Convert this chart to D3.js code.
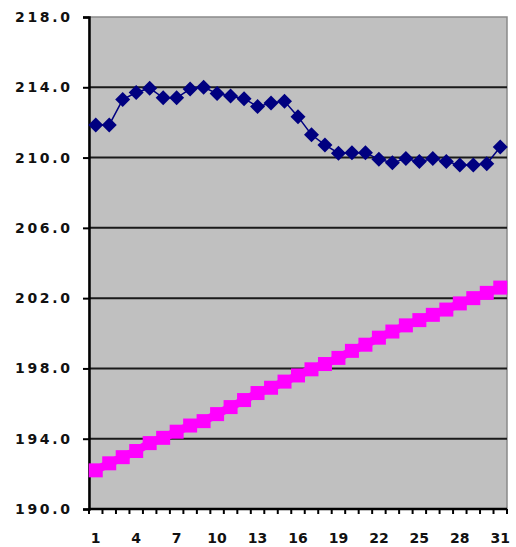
<!DOCTYPE html>
<html><head><meta charset="utf-8">
<script src="https://cdn.jsdelivr.net/npm/d3@7"></script>
<style>body{margin:0;background:#fff}svg{display:block}</style>
</head><body>
<script>
const days = d3.range(1, 32);
const blueValues = [211.86,211.86,213.3,213.7,213.95,213.4,213.4,213.9,214.0,213.65,213.5,213.35,212.9,213.1,213.2,212.33,211.3,210.72,210.25,210.28,210.28,209.9,209.7,209.95,209.77,209.95,209.77,209.58,209.58,209.65,210.6];
const pinkValues = [192.2,192.6,192.95,193.3,193.75,194.05,194.4,194.75,195.0,195.4,195.8,196.2,196.6,196.9,197.25,197.6,197.95,198.25,198.6,199.0,199.35,199.75,200.1,200.45,200.75,201.05,201.35,201.7,202.0,202.3,202.6];
const yTicks = [190,194,198,202,206,210,214,218];
const xLabels = [1,4,7,10,13,16,19,22,25,28,31];

const W = 516, H = 547;
const m = {left: 89, right: 9, top: 17, bottom: 38};
const svg = d3.select("body").append("svg").attr("width", W).attr("height", H);
const pw = W - m.left - m.right, ph = H - m.top - m.bottom;
const FONT = "DejaVu Sans, Verdana, sans-serif";

const x = d3.scaleBand().domain(days).range([m.left, m.left + pw]).padding(0);
const y = d3.scaleLinear().domain([190, 218]).range([m.top + ph, m.top]);
const cx = d => x(d) + x.bandwidth() / 2;

svg.append("rect").attr("x", m.left).attr("y", m.top).attr("width", pw).attr("height", ph)
  .attr("fill", "#c0c0c0").attr("stroke", "#8a8a8a").attr("stroke-width", 1.5);

// grid lines
svg.append("g").selectAll("line").data(yTicks.filter(t => t > 190 && t < 218)).join("line")
  .attr("x1", m.left).attr("x2", m.left + pw)
  .attr("y1", d => y(d)).attr("y2", d => y(d))
  .attr("stroke", "#1a1a1a").attr("stroke-width", 2);

// y axis
const yAxis = d3.axisLeft(y).tickValues(yTicks).tickFormat(d3.format(".1f")).tickSize(6).tickPadding(13);
const gy = svg.append("g").attr("transform", `translate(${m.left},0)`).call(yAxis);
gy.select(".domain").attr("stroke", "#000").attr("stroke-width", 2.5);
gy.selectAll(".tick line").attr("stroke", "#000").attr("stroke-width", 2);
gy.selectAll("text").attr("font-family", FONT).attr("font-size", 14).attr("font-weight", "bold")
  .attr("textLength", 55).attr("lengthAdjust", "spacing").attr("fill", "#111");

// x axis
const bx = m.top + ph;
svg.append("line").attr("x1", m.left).attr("x2", m.left + pw).attr("y1", bx).attr("y2", bx)
  .attr("stroke", "#000").attr("stroke-width", 2.5);
svg.append("g").selectAll("line").data(days.concat([32])).join("line")
  .attr("x1", d => d <= 31 ? x(d) : m.left + pw).attr("x2", d => d <= 31 ? x(d) : m.left + pw)
  .attr("y1", bx).attr("y2", bx + 5).attr("stroke", "#000").attr("stroke-width", 2);
svg.append("g").selectAll("text").data(xLabels).join("text")
  .attr("x", d => cx(d)).attr("y", 543).attr("text-anchor", "middle")
  .attr("font-family", FONT).attr("font-size", 14).attr("font-weight", "bold").attr("fill", "#111")
  .text(d => d);

// pink series
const pinkData = days.map((d, i) => [d, pinkValues[i]]);
svg.append("path").datum(pinkData)
  .attr("fill", "none").attr("stroke", "#ff00ff").attr("stroke-width", 8)
  .attr("d", d3.line().x(d => cx(d[0])).y(d => y(d[1])));
svg.append("g").selectAll("rect").data(pinkData).join("rect")
  .attr("x", d => cx(d[0]) - 7).attr("y", d => y(d[1]) - 7).attr("width", 14).attr("height", 14)
  .attr("fill", "#ff00ff");

// blue series
const blueData = days.map((d, i) => [d, blueValues[i]]);
svg.append("path").datum(blueData)
  .attr("fill", "none").attr("stroke", "#000080").attr("stroke-width", 1.5)
  .attr("d", d3.line().x(d => cx(d[0])).y(d => y(d[1])));
svg.append("g").selectAll("path.m").data(blueData).join("path")
  .attr("transform", d => `translate(${cx(d[0])},${y(d[1])})`)
  .attr("d", "M0,-7.5L7.5,0L0,7.5L-7.5,0Z")
  .attr("fill", "#000080");
</script>
</body></html>
